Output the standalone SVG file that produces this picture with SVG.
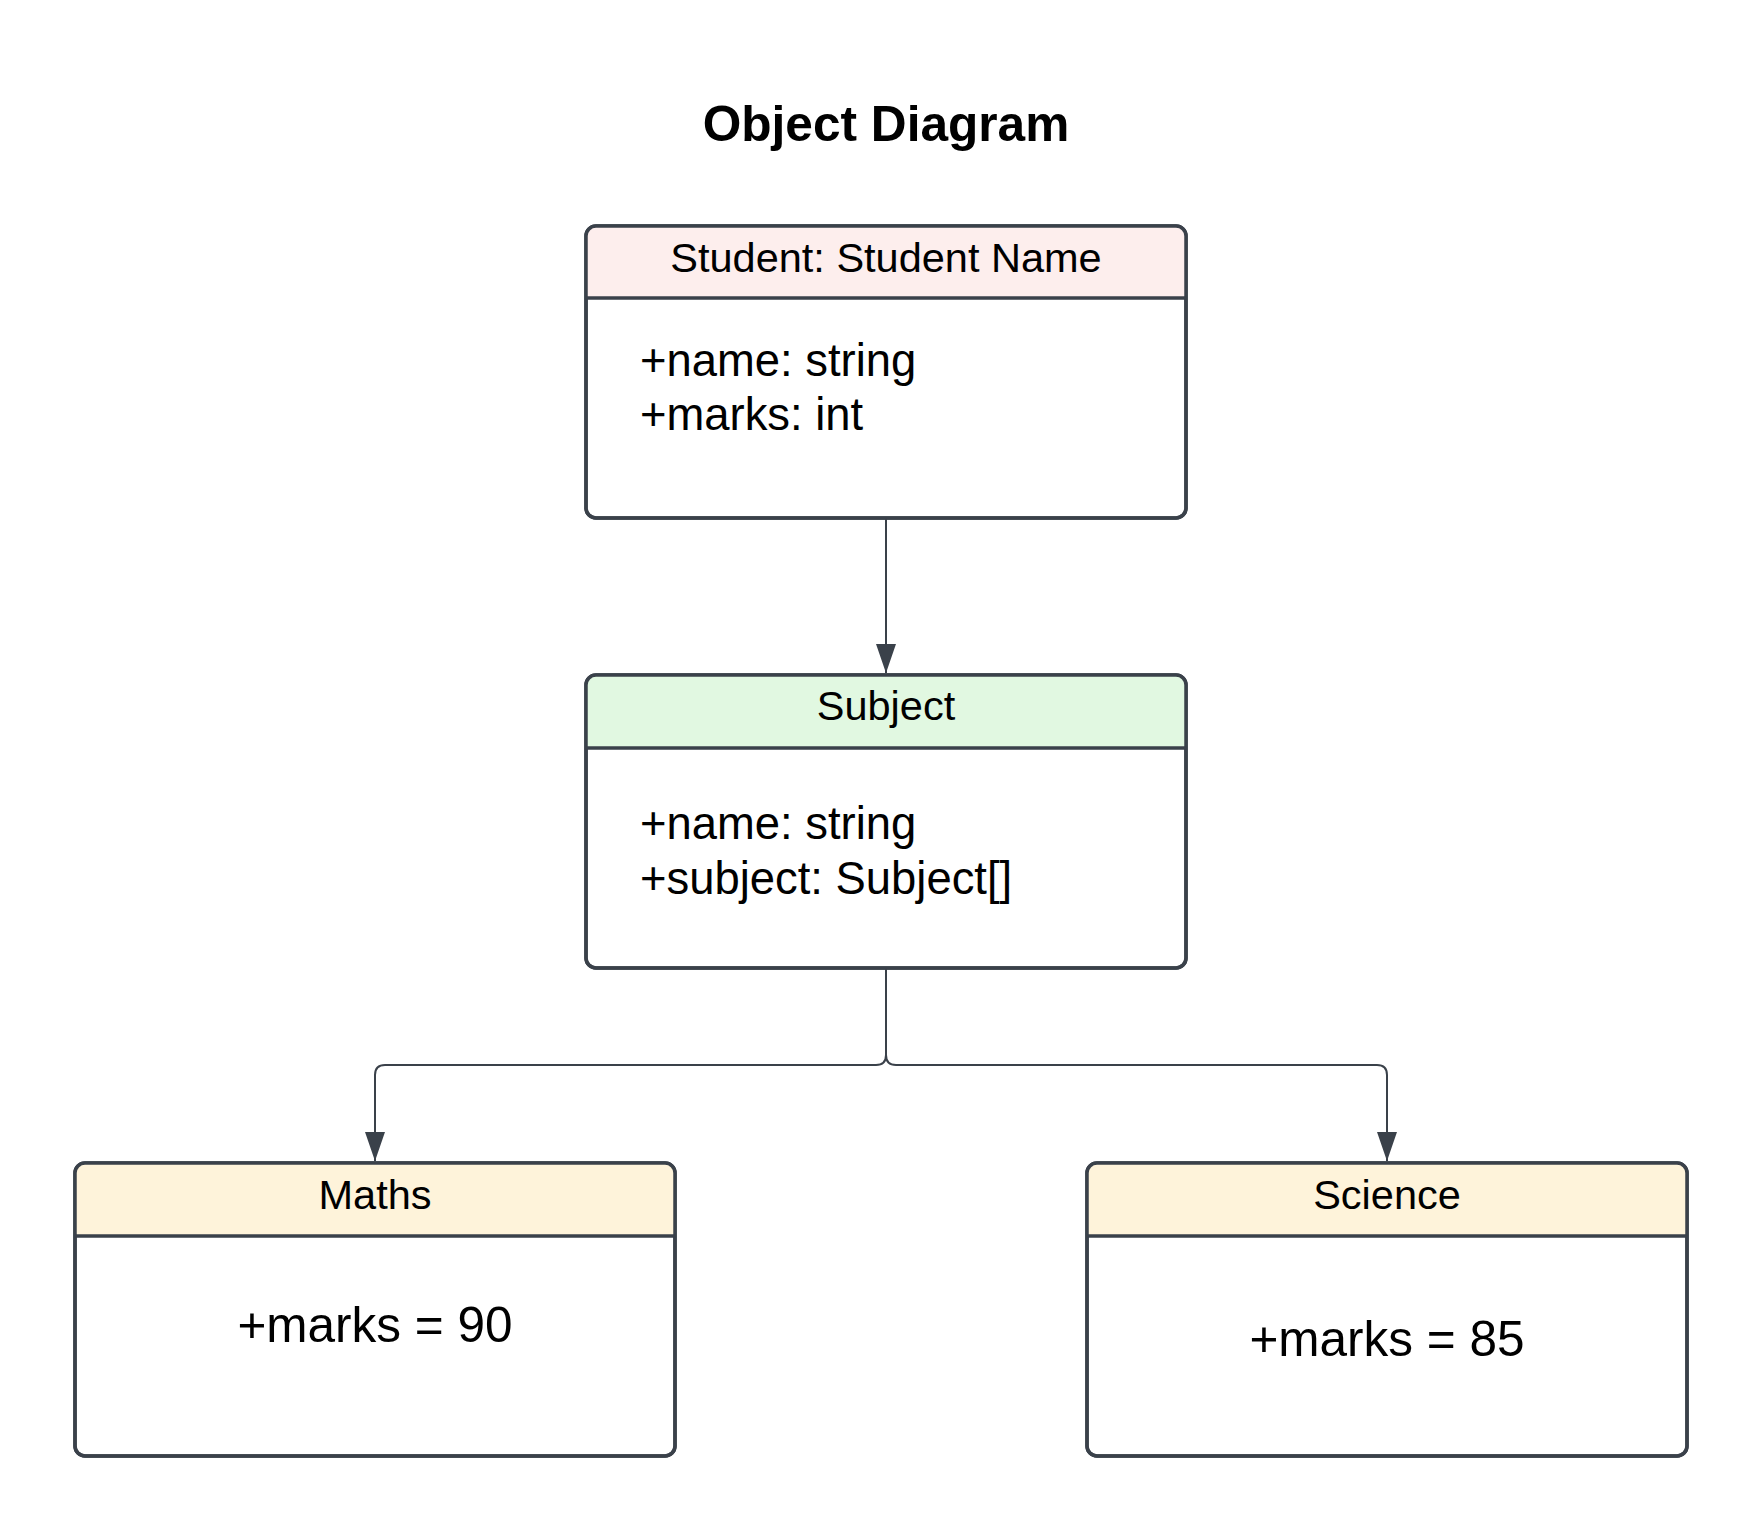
<svg xmlns="http://www.w3.org/2000/svg" width="1763" height="1532" viewBox="0 0 1763 1532">
  <style>
    .box { fill: #ffffff; stroke: #3a414a; stroke-width: 3.5; }
    .frame { fill: none; stroke: #3a414a; stroke-width: 3.5; }
    .div { stroke: #3a414a; stroke-width: 3.5; fill: none; }
    .hdr { font-family: "Liberation Sans", Arial, sans-serif; font-size: 41.5px; fill: #000000; text-anchor: middle; }
    .attr { font-family: "Liberation Sans", Arial, sans-serif; font-size: 45.4px; fill: #000000; }
    .val { font-family: "Liberation Sans", Arial, sans-serif; font-size: 49.5px; fill: #000000; text-anchor: middle; }
    .title { font-family: "Liberation Sans", Arial, sans-serif; font-size: 49.6px; font-weight: bold; fill: #000000; text-anchor: middle; }
    .conn { fill: none; stroke: #3a414a; stroke-width: 2; }
  </style>
  <defs>
    <marker id="arrow" viewBox="0 0 29 20" refX="29" refY="10" markerWidth="29" markerHeight="20" markerUnits="userSpaceOnUse" orient="auto">
      <path d="M0 0 L29 10 L0 20 Z" fill="#3a414a"/>
    </marker>
  </defs>
  <rect width="1763" height="1532" fill="#ffffff"/>

  <text class="title" x="886" y="141">Object Diagram</text>

  <g id="connectors">
    <path class="conn" d="M886 519 V673" marker-end="url(#arrow)"/>
    <path class="conn" d="M886 969 V1055 Q886 1065 876 1065 H385 Q375 1065 375 1075 V1161" marker-end="url(#arrow)"/>
    <path class="conn" d="M886 969 V1055 Q886 1065 896 1065 H1377 Q1387 1065 1387 1075 V1161" marker-end="url(#arrow)"/>
  </g>

  <g id="student">
    <rect class="box" x="586" y="226" width="600" height="292" rx="10"/>
    <path d="M596 226 H1176 Q1186 226 1186 236 V298 H586 V236 Q586 226 596 226 Z" fill="#fdeeed"/>
    <rect class="frame" x="586" y="226" width="600" height="292" rx="10"/>
    <line class="div" x1="586" y1="298" x2="1186" y2="298"/>
    <text class="hdr" x="886" y="271.5">Student: Student Name</text>
    <text class="attr" x="640" y="375.5">+name: string</text>
    <text class="attr" x="640" y="430">+marks: int</text>
  </g>

  <g id="subject">
    <rect class="box" x="586" y="675" width="600" height="293" rx="10"/>
    <path d="M596 675 H1176 Q1186 675 1186 685 V748 H586 V685 Q586 675 596 675 Z" fill="#e1f8e1"/>
    <rect class="frame" x="586" y="675" width="600" height="293" rx="10"/>
    <line class="div" x1="586" y1="748" x2="1186" y2="748"/>
    <text class="hdr" x="886" y="720">Subject</text>
    <text class="attr" x="640" y="839">+name: string</text>
    <text class="attr" x="640" y="894">+subject: Subject[]</text>
  </g>

  <g id="maths">
    <rect class="box" x="75" y="1163" width="600" height="293" rx="10"/>
    <path d="M85 1163 H665 Q675 1163 675 1173 V1236 H75 V1173 Q75 1163 85 1163 Z" fill="#fef3da"/>
    <rect class="frame" x="75" y="1163" width="600" height="293" rx="10"/>
    <line class="div" x1="75" y1="1236" x2="675" y2="1236"/>
    <text class="hdr" x="375" y="1209">Maths</text>
    <text class="val" x="375" y="1341.5">+marks = 90</text>
  </g>

  <g id="science">
    <rect class="box" x="1087" y="1163" width="600" height="293" rx="10"/>
    <path d="M1097 1163 H1677 Q1687 1163 1687 1173 V1236 H1087 V1173 Q1087 1163 1097 1163 Z" fill="#fef3da"/>
    <rect class="frame" x="1087" y="1163" width="600" height="293" rx="10"/>
    <line class="div" x1="1087" y1="1236" x2="1687" y2="1236"/>
    <text class="hdr" x="1387" y="1209">Science</text>
    <text class="val" x="1387" y="1355.5">+marks = 85</text>
  </g>
</svg>
